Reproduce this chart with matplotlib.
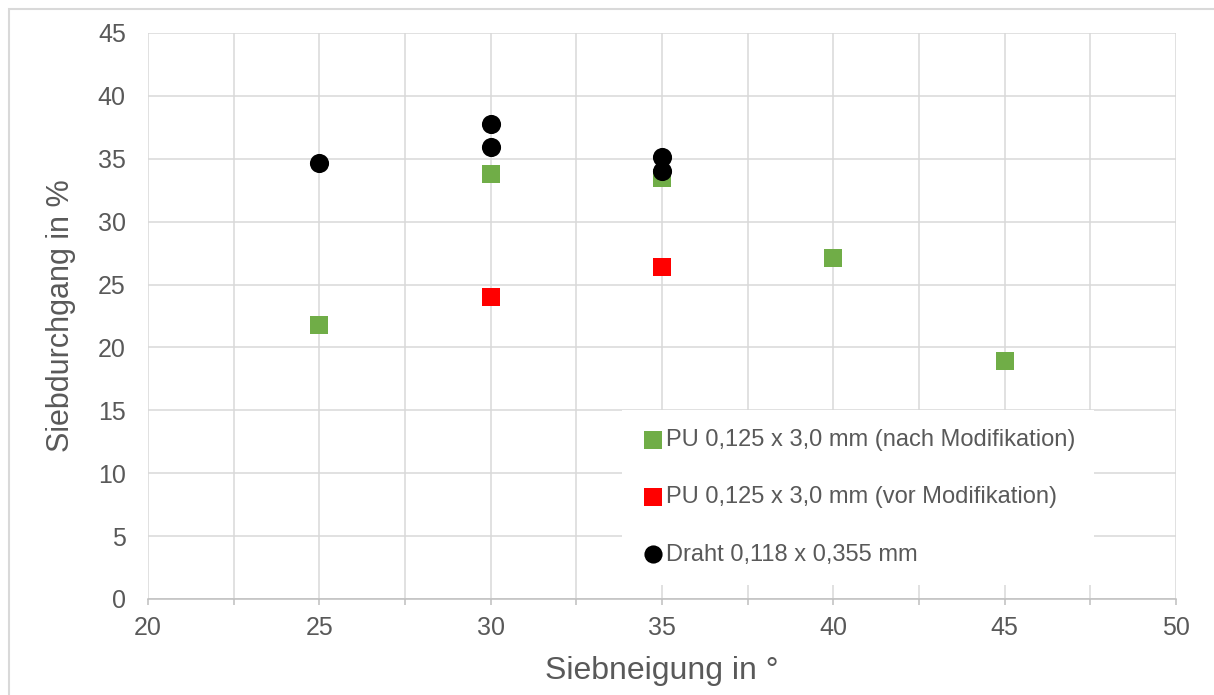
import matplotlib
matplotlib.use('Agg')
import matplotlib.pyplot as plt
from matplotlib.patches import Rectangle
from matplotlib.ticker import MultipleLocator

# Messwerte: Siebneigung (°) und Siebdurchgang (%)
neigung_pu_nach = [25, 30, 35, 40, 45]
durchgang_pu_nach = [21.8, 33.8, 33.5, 27.1, 18.9]

neigung_pu_vor = [30, 35]
durchgang_pu_vor = [24.0, 26.4]

neigung_draht = [25, 30, 30, 35, 35]
durchgang_draht = [34.65, 37.75, 35.95, 35.15, 34.0]

label_pu_nach = 'PU 0,125 x 3,0 mm (nach Modifikation)'
label_pu_vor = 'PU 0,125 x 3,0 mm (vor Modifikation)'
label_draht = 'Draht 0,118 x 0,355 mm'

textfarbe = '#595959'
plt.rcParams['font.family'] = ['Liberation Sans', 'DejaVu Sans']

fig = plt.figure(figsize=(12.14, 6.95), dpi=100)
ax = fig.add_axes([148 / 1214, 1 - 599 / 695, 1028 / 1214, 566 / 695])

# Rahmen um das Diagramm
fig.patches.append(Rectangle((9 / 1214, -0.1), 1.2, 0.1 + 1 - 9 / 695,
                             transform=fig.transFigure, fill=False,
                             edgecolor='#d9d9d9', linewidth=1.5))

ax.scatter(neigung_pu_nach, durchgang_pu_nach, marker='s', s=170,
           color='#70ad47', linewidths=0, label=label_pu_nach, zorder=3)
ax.scatter(neigung_pu_vor, durchgang_pu_vor, marker='s', s=170,
           color='#ff0000', linewidths=0, label=label_pu_vor, zorder=3)
ax.scatter(neigung_draht, durchgang_draht, marker='o', s=190,
           color='black', linewidths=0, label=label_draht, zorder=4)

ax.set_xlim(20, 50)
ax.set_ylim(0, 45)
ax.xaxis.set_major_locator(MultipleLocator(5))
ax.xaxis.set_minor_locator(MultipleLocator(2.5))
ax.yaxis.set_major_locator(MultipleLocator(5))

ax.grid(True, which='both', color='#d9d9d9', linewidth=1.1, zorder=0)
ax.set_axisbelow(True)

for side in ['top', 'right', 'left']:
    ax.spines[side].set_visible(False)
ax.spines['bottom'].set_color('#bfbfbf')
ax.spines['bottom'].set_linewidth(1.1)

ax.tick_params(axis='x', which='both', direction='out', length=4,
               color='#bfbfbf', width=1.1, labelsize=18,
               labelcolor=textfarbe, pad=8)
ax.tick_params(axis='y', length=0, labelsize=18, labelcolor=textfarbe,
               pad=16)

ax.set_xlabel('Siebneigung in °', fontsize=23, color=textfarbe, labelpad=12)
ax.set_ylabel('Siebdurchgang in %', fontsize=22, color=textfarbe,
              labelpad=16)

leg = ax.legend(loc='upper left', bbox_to_anchor=(0.461, 0.334),
                borderaxespad=0, frameon=True, fancybox=False,
                facecolor='white', edgecolor='none', framealpha=1,
                fontsize=17, labelcolor=textfarbe, handletextpad=0.05,
                handlelength=1.0, labelspacing=1.5, borderpad=0.8,
                markerscale=0.95)
leg.set_zorder(5)

fig.savefig('out.png', dpi=100)
